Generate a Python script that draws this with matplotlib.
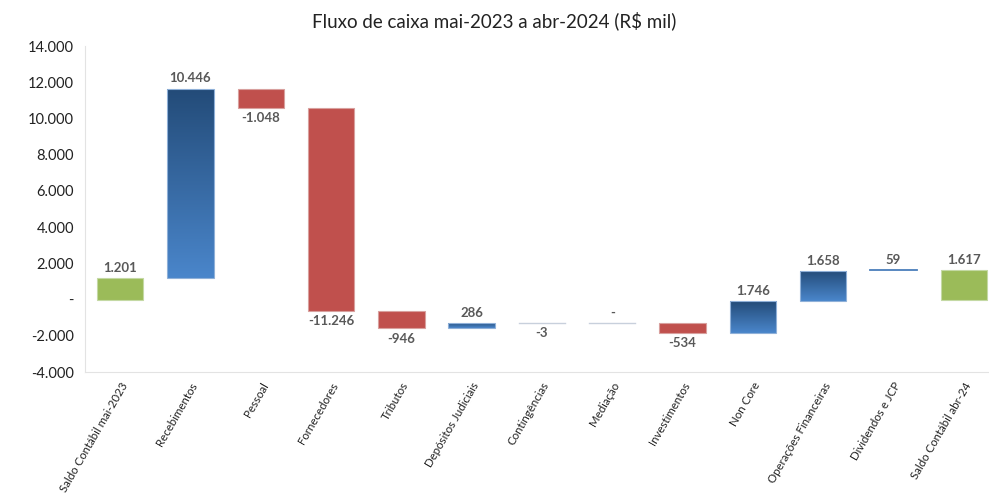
import matplotlib
matplotlib.use("Agg")
import matplotlib.pyplot as plt
import numpy as np
from matplotlib.colors import LinearSegmentedColormap
from matplotlib.ticker import FuncFormatter

plt.rcParams['font.family'] = ['Lato', 'DejaVu Sans']

categories = ["Saldo Contábil mai-2023", "Recebimentos", "Pessoal", "Fornecedores",
              "Tributos", "Depósitos Judiciais", "Contingências", "Mediação",
              "Investimentos", "Non Core", "Operações Financeiras",
              "Dividendos e JCP", "Saldo Contábil abr-24"]
values = [1201, 10446, -1048, -11246, -946, 286, -3, 0, -534, 1746, 1658, 59, 1617]
kinds = ["total", "delta", "delta", "delta", "delta", "delta", "delta", "delta",
         "delta", "delta", "delta", "delta", "total"]
yticks = [-4000, -2000, 0, 2000, 4000, 6000, 8000, 10000, 12000, 14000]

GREEN = "#9BBB59"
RED = "#C0504D"
BLUE_TOP = "#234B78"
BLUE_BOT = "#4A86CB"
LABEL = "#595959"

def fmt(v):
    if v == 0:
        return "-"
    s = f"{abs(int(v)):,}".replace(",", ".")
    return ("-" if v < 0 else "") + s

W, H = 989, 493
fig = plt.figure(figsize=(W / 100, H / 100), dpi=100)
spacing = 70.3
left_px = 85
ax = fig.add_axes([left_px / W, (H - 372) / H, 13 * spacing / W, (372 - 46) / H])

cmap = LinearSegmentedColormap.from_list("bl", [BLUE_BOT, BLUE_TOP])
grad = np.linspace(0, 1, 256).reshape(-1, 1)

cum = 0
bw = 0.66
for i, (v, k) in enumerate(zip(values, kinds)):
    if k == "total":
        bottom, top = 0, v
        cum = v
        color = GREEN
    else:
        bottom, top = cum, cum + v
        cum = cum + v
        color = BLUE_TOP if v > 0 else RED
    lo, hi = min(bottom, top), max(bottom, top)
    h = hi - lo
    if abs(v) < 20:
        ax.plot([i - bw / 2, i + bw / 2], [lo, lo], color="#C8D0DC", lw=1.0, zorder=3)
    elif k == "delta" and v > 0:
        if h < 100:
            ax.plot([i - bw / 2, i + bw / 2], [hi, hi], color="#4A7EBB", lw=1.3, zorder=3)
        else:
            rect = plt.Rectangle((i - bw / 2, lo), bw, h, facecolor="none",
                                 edgecolor="#8FB0D8", lw=0.8, zorder=3)
            ax.add_patch(rect)
            im = ax.imshow(grad, cmap=cmap, origin="lower", aspect="auto",
                           extent=[i - bw / 2, i + bw / 2, lo, hi], zorder=2)
            im.set_clip_path(rect)
    else:
        edge = "#D8A09E" if color == RED else "#C4D9A4"
        ax.add_patch(plt.Rectangle((i - bw / 2, lo), bw, h, facecolor=color,
                                   edgecolor=edge, lw=0.8, zorder=2))
    if v >= 0:
        ax.annotate(fmt(v), (i, hi), xytext=(0, 3), textcoords="offset points",
                    ha="center", va="bottom", fontsize=9.5, fontweight="bold", color=LABEL)
    else:
        ax.annotate(fmt(v), (i, lo), xytext=(0, -3), textcoords="offset points",
                    ha="center", va="top", fontsize=9.5, fontweight="bold", color=LABEL)

ax.set_xlim(-0.5, 12.5)
ax.set_ylim(-4000, 14000)
ax.set_yticks(yticks)
ax.yaxis.set_major_formatter(FuncFormatter(lambda v, p: fmt(v)))
ax.set_xticks(range(len(categories)))
ax.set_xticklabels(categories, rotation=60, ha="right", rotation_mode="anchor",
                   fontsize=8.3, color="#222222")
ax.tick_params(axis="y", length=0, labelsize=10.5, labelcolor="#222222", pad=8)
ax.tick_params(axis="x", length=0, pad=6)
for s in ["top", "right"]:
    ax.spines[s].set_visible(False)
ax.spines["left"].set_color("#E3E3E3")
ax.spines["bottom"].set_color("#E3E3E3")

fig.text(494 / W, 1 - 21 / H, "Fluxo de caixa mai-2023 a abr-2024 (R$ mil)",
         ha="center", va="center", fontsize=13.5, color="#222222")

fig.savefig("out.png", dpi=100)
